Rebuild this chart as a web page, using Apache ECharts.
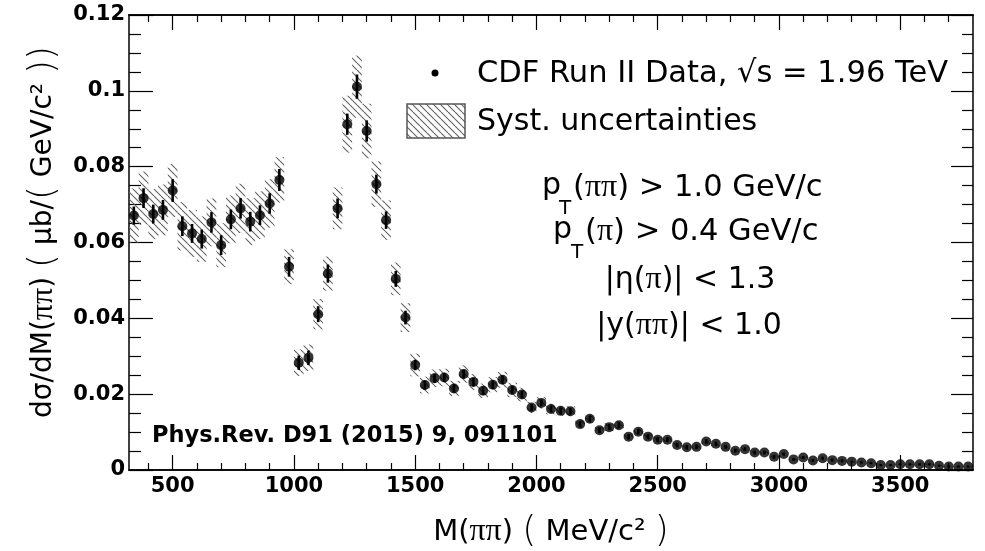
<!DOCTYPE html>
<html>
<head>
<meta charset="utf-8">
<script src="https://cdn.jsdelivr.net/npm/echarts@6/dist/echarts.min.js"></script>
<style>
  html, body { margin: 0; padding: 0; background: #fff; }
  #chart { width: 985px; height: 551px; }
</style>
</head>
<body>
<div id="chart"></div>
<script>
  'use strict'
  // bin centres, MeV/c^2 (40 MeV bins)
  var mass = [340, 380, 420, 460, 500, 540, 580, 620, 660, 700, 740, 780, 820, 860, 900, 940,
    980, 1020, 1060, 1100, 1140, 1180, 1220, 1260, 1300, 1340, 1380, 1420, 1460, 1500,
    1540, 1580, 1620, 1660, 1700, 1740, 1780, 1820, 1860, 1900, 1940, 1980,
    2020, 2060, 2100, 2140, 2180, 2220, 2260, 2300, 2340, 2380, 2420, 2460, 2500,
    2540, 2580, 2620, 2660, 2700, 2740, 2780, 2820, 2860, 2900, 2940, 2980,
    3020, 3060, 3100, 3140, 3180, 3220, 3260, 3300, 3340, 3380, 3420, 3460, 3500,
    3540, 3580, 3620, 3660, 3700, 3740, 3780];
  // dsigma/dM, ub/(GeV/c^2)
  var xsec = [0.0671, 0.0717, 0.0675, 0.0686, 0.0737, 0.0643, 0.0624, 0.0609, 0.0653, 0.0593, 0.0661, 0.0690, 0.0655, 0.0672, 0.0703, 0.0765,
    0.0536, 0.0283, 0.0296, 0.0411, 0.0518, 0.0690, 0.0912, 0.1011, 0.0894, 0.0754, 0.0659, 0.0504, 0.0402, 0.0277,
    0.0224, 0.0242, 0.0244, 0.0215, 0.0253, 0.0232, 0.0209, 0.0225, 0.0238, 0.0211, 0.0199, 0.0165,
    0.0177, 0.0161, 0.0156, 0.0155, 0.0121, 0.0135, 0.0105, 0.0113, 0.0118, 0.0088, 0.0101, 0.0088, 0.0080,
    0.0080, 0.0066, 0.0060, 0.0061, 0.0075, 0.0069, 0.0061, 0.0051, 0.0055, 0.0046, 0.0046, 0.0035,
    0.0042, 0.0028, 0.0033, 0.0025, 0.0031, 0.0026, 0.0024, 0.0022, 0.0020, 0.0018, 0.0013, 0.0013, 0.0015,
    0.0015, 0.0015, 0.0015, 0.0011, 0.0009, 0.0009, 0.0009];
  var statErr = [0.0024, 0.0026, 0.0025, 0.0026, 0.0030, 0.0026, 0.0025, 0.0025, 0.0027, 0.0026, 0.0026, 0.0027, 0.0026, 0.0026, 0.0027, 0.0029,
    0.0026, 0.0019, 0.0019, 0.0021, 0.0024, 0.0026, 0.0028, 0.0032, 0.0028, 0.0025, 0.0023, 0.0021, 0.0018, 0.0014,
    0.0012, 0.0012, 0.0012, 0.0011, 0.0012, 0.0011, 0.0011, 0.0011, 0.0011, 0.0010, 0.0010, 0.0009,
    0.0009, 0.0009, 0.0009, 0.0009, 0.0008, 0.0008, 0.0008, 0.0008, 0.0008, 0.0007, 0.0007, 0.0007, 0.0007,
    0.0006, 0.0006, 0.0006, 0.0006, 0.0006, 0.0006, 0.0005, 0.0005, 0.0005, 0.0005, 0.0005, 0.0005,
    0.0004, 0.0004, 0.0004, 0.0004, 0.0004, 0.0004, 0.0004, 0.0003, 0.0003, 0.0003, 0.0003, 0.0003, 0.0003,
    0.0003, 0.0003, 0.0003, 0.0003, 0.0003, 0.0003, 0.0003];
  var systErr = [0.0072, 0.0070, 0.0066, 0.0067, 0.0070, 0.0064, 0.0062, 0.0060, 0.0063, 0.0058, 0.0063, 0.0065, 0.0062, 0.0063, 0.0064, 0.0060,
    0.0046, 0.0035, 0.0035, 0.0040, 0.0045, 0.0055, 0.0075, 0.0082, 0.0072, 0.0060, 0.0052, 0.0043, 0.0038, 0.0030,
    0.0022, 0.0023, 0.0023, 0.0020, 0.0023, 0.0021, 0.0019, 0.0020, 0.0021, 0.0019, 0.0018, 0.0015,
    0.0015, 0.0014, 0.0013, 0.0013, 0.0010, 0.0011, 0.0009, 0.0010, 0.0010, 0.0008, 0.0009, 0.0008, 0.0007,
    0.0007, 0.0006, 0.0005, 0.0005, 0.0006, 0.0006, 0.0005, 0.0004, 0.0005, 0.0004, 0.0004, 0.0003,
    0.0004, 0.0003, 0.0003, 0.0002, 0.0003, 0.0002, 0.0002, 0.0002, 0.0002, 0.0002, 0.0001, 0.0001, 0.0001,
    0.0001, 0.0001, 0.0001, 0.0001, 0.0001, 0.0001, 0.0001];

  var majorX = [500, 1000, 1500, 2000, 2500, 3000, 3500];
  var minorX = [400, 600, 700, 800, 900, 1100, 1200, 1300, 1400, 1600, 1700, 1800, 1900,
    2100, 2200, 2300, 2400, 2600, 2700, 2800, 2900, 3100, 3200, 3300, 3400, 3600, 3700];
  var binHalf = 20;

  // hatch pattern "\\\\"
  var tile = document.createElement('canvas');
  tile.width = 7; tile.height = 7;
  var tctx = tile.getContext('2d');
  tctx.strokeStyle = '#606060';
  tctx.lineWidth = 1.1;
  [-7, 0, 7].forEach(function (k) {
    tctx.beginPath();
    tctx.moveTo(k, 0);
    tctx.lineTo(k + 7, 7);
    tctx.stroke();
  });
  var hatch = { image: tile, repeat: 'repeat' };

  var points = mass.map(function (m, i) { return [m, xsec[i], statErr[i], systErr[i]]; });

  var fontSans = 'DejaVu Sans';
  var fontSerif = 'Liberation Serif';
  var greek = { fontSize: 32, fontFamily: fontSerif, fill: '#000' };
  var brace = { fontSize: 36, fontWeight: 'lighter', fontFamily: 'DejaVu Sans', fill: '#000' };

  function xAxisDef(pos, ticks, len, labels) {
    return {
      type: 'value', position: pos, min: 320, max: 3800,
      axisLine: { show: true, onZero: false, lineStyle: { color: '#000', width: 1.5 } },
      axisTick: { show: true, inside: true, length: len, customValues: ticks, lineStyle: { color: '#000', width: 1.2 } },
      axisLabel: labels ? {
        customValues: majorX, fontSize: 21, fontWeight: 'bold', color: '#000', fontFamily: fontSans, margin: 6,
        formatter: function (v) { return String(v); }
      } : { show: false },
      splitLine: { show: false }
    };
  }

  function yAxisDef(pos, len, labels) {
    return {
      type: 'value', position: pos, min: 0, max: 0.12, interval: 0.02,
      axisLine: { show: true, onZero: false, lineStyle: { color: '#000', width: 1.5 } },
      axisTick: { show: true, inside: true, length: len, lineStyle: { color: '#000', width: 1.2 } },
      minorTick: { show: true, splitNumber: 4, length: len / 2, lineStyle: { color: '#000', width: 1.2 } },
      axisLabel: labels ? { fontSize: 21, fontWeight: 'bold', color: '#000', fontFamily: fontSans, margin: 4 } : { show: false },
      splitLine: { show: false },
      minorSplitLine: { show: false }
    };
  }

  function txt(x, y, s, size, extra) {
    var style = { text: s, fontSize: size, fontFamily: fontSans, fill: '#000', verticalAlign: 'middle', rich: { g: greek, b: brace } };
    for (var k in extra) style[k] = extra[k];
    return { type: 'text', x: x, y: y, style: style };
  }

  var option = {
    animation: false,
    backgroundColor: '#fff',
    grid: { left: 129, right: 12, top: 15, bottom: 81 },
    xAxis: [
      xAxisDef('bottom', majorX, 15, true),
      xAxisDef('bottom', minorX, 7, false),
      xAxisDef('top', majorX, 15, false),
      xAxisDef('top', minorX, 7, false)
    ],
    yAxis: [
      yAxisDef('left', 24, true),
      yAxisDef('right', 22, false)
    ],
    series: [
      {
        name: 'syst',
        type: 'custom',
        clip: true,
        data: points,
        z: 1,
        renderItem: function (params, api) {
          var x = api.value(0), y = api.value(1), e = api.value(3);
          var p0 = api.coord([x - binHalf, y + e]);
          var p1 = api.coord([x + binHalf, y - e]);
          return {
            type: 'rect',
            shape: { x: p0[0], y: p0[1], width: p1[0] - p0[0], height: p1[1] - p0[1] },
            style: { fill: hatch, stroke: null }
          };
        }
      },
      {
        name: 'stat',
        type: 'custom',
        clip: true,
        data: points,
        z: 2,
        renderItem: function (params, api) {
          var x = api.value(0), y = api.value(1), e = api.value(2);
          var p0 = api.coord([x, y + e]);
          var p1 = api.coord([x, y - e]);
          return {
            type: 'line',
            shape: { x1: p0[0], y1: p0[1], x2: p1[0], y2: p1[1] },
            style: { stroke: '#000', lineWidth: 2.6 }
          };
        }
      },
      {
        name: 'CDF Run II Data',
        type: 'scatter',
        data: points,
        symbol: 'circle',
        symbolSize: 10,
        itemStyle: { color: '#000' },
        z: 3
      }
    ],
    graphic: [
      // legend
      { type: 'circle', shape: { cx: 435, cy: 73, r: 3.5 }, style: { fill: '#000' } },
      txt(477, 74, 'CDF Run II Data, √s = 1.96 TeV', 30.5),
      { type: 'rect', shape: { x: 407, y: 104, width: 58, height: 34 }, style: { fill: hatch, stroke: '#555', lineWidth: 1.5 } },
      txt(477, 122, 'Syst. uncertainties', 30),
      // cuts
      txt(542, 186, 'p', 30),
      txt(559, 209, 'T', 20),
      txt(573, 188, '({g|ππ}) > 1.0 GeV/c', 30.5),
      txt(553, 230, 'p', 30),
      txt(571, 253, 'T', 20),
      txt(585, 232, '({g|π}) > 0.4 GeV/c', 30.5),
      txt(690, 280, '|η({g|π})| < 1.3', 30, { align: 'center' }),
      txt(689, 326, '|y({g|ππ})| < 1.0', 30, { align: 'center' }),
      // reference
      txt(152, 436, 'Phys.Rev. D91 (2015) 9, 091101', 22.5, { fontWeight: 'bold' }),
      // axis titles
      txt(551, 532, 'M({g|ππ}) {b|(} MeV/c² {b|)}', 29, { align: 'center' }),
      {
        type: 'text', x: 44, y: 232, rotation: Math.PI / 2,
        style: {
          text: 'dσ/dM({g|ππ}) {b|(} μb/{b|(} GeV/c² {b|)}{b|)}', fontSize: 28, fontFamily: fontSans, fill: '#000',
          align: 'center', verticalAlign: 'middle', rich: { g: greek, b: brace }
        }
      }
    ]
  };

  var chart = echarts.init(document.getElementById('chart'));
  chart.setOption(option);
</script>
</body>
</html>
